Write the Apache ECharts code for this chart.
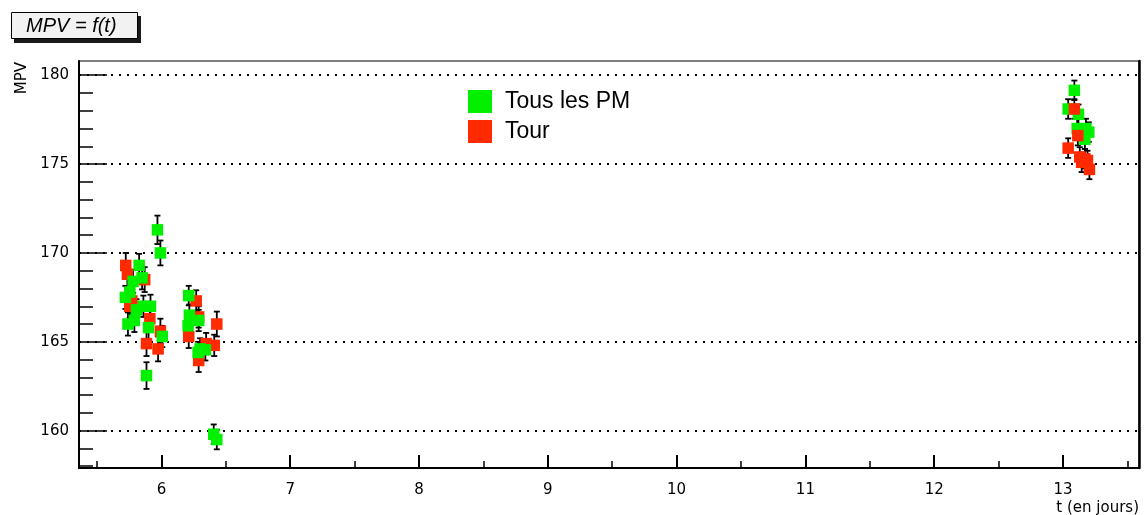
<!DOCTYPE html>
<html>
<head>
<meta charset="utf-8">
<script src="https://cdn.jsdelivr.net/npm/echarts@6/dist/echarts.min.js"></script>
<style>
  html, body { margin: 0; padding: 0; background: #fff; }
  #chart { width: 1146px; height: 515px; }
</style>
</head>
<body>
<div id="chart"></div>
<script>
// MPV versus time (days), two selections: all PMs and the tower.
// Days 5.7 - 6.45
const tAllEarly  = [5.72, 5.74, 5.755, 5.78, 5.79, 5.806, 5.827, 5.85, 5.86, 5.884, 5.90, 5.915, 5.969, 5.992, 6.007, 6.207, 6.212, 6.217, 6.285, 6.289, 6.30, 6.341, 6.406, 6.43];
const vAllEarly  = [167.5, 166.0, 167.8, 168.4, 166.2, 166.8, 169.3, 168.6, 167.0, 163.1, 165.8, 167.0, 171.3, 170.0, 165.3, 165.9, 167.6, 166.5, 164.4, 166.2, 164.6, 164.55, 159.8, 159.5];
const eAllEarly  = [0.65, 0.65, 0.6, 0.65, 0.65, 0.6, 0.65, 0.65, 0.6, 0.75, 0.65, 0.65, 0.8, 0.7, 0.6, 0.6, 0.55, 0.6, 0.6, 0.6, 0.6, 0.6, 0.55, 0.55];
const tTourEarly = [5.723, 5.736, 5.754, 5.77, 5.87, 5.884, 5.91, 5.974, 5.992, 6.212, 6.27, 6.289, 6.289, 6.347, 6.41, 6.43];
const vTourEarly = [169.3, 168.8, 167.0, 167.3, 168.5, 164.9, 166.3, 164.6, 165.6, 165.3, 167.3, 166.4, 163.95, 164.9, 164.8, 166.0];
const eTourEarly = [0.7, 0.7, 0.65, 0.65, 0.7, 0.7, 0.65, 0.7, 0.7, 0.65, 0.6, 0.6, 0.65, 0.6, 0.6, 0.7];
// Day 13
const tAllLate  = [13.04, 13.088, 13.11, 13.12, 13.17, 13.178, 13.2];
const vAllLate  = [178.1, 179.15, 177.0, 177.8, 176.4, 177.0, 176.8];
const eAllLate  = [0.55, 0.55, 0.55, 0.55, 0.55, 0.55, 0.55];
const tTourLate = [13.04, 13.088, 13.115, 13.13, 13.145, 13.17, 13.19, 13.205];
const vTourLate = [175.9, 178.1, 176.6, 175.4, 175.1, 175.3, 175.2, 174.7];
const eTourLate = [0.55, 0.55, 0.55, 0.55, 0.55, 0.55, 0.55, 0.55];

// Axis ticks
const xMajorTicks = [6, 7, 8, 9, 10, 11, 12, 13];
const xMinorTicks = [5.5, 6.5, 7.5, 8.5, 9.5, 10.5, 11.5, 12.5, 13.5];
const yMajorTicks = [160, 165, 170, 175, 180];
const yMinorTicks = [158, 159, 161, 162, 163, 164, 166, 167, 168, 169, 171, 172, 173, 174, 176, 177, 178, 179, 180];

const GREEN = '#00f000';
const RED = '#ff2a00';
const X_MIN = 5.36, X_MAX = 13.59, Y_MIN = 157.9, Y_MAX = 180.8;

const zip = (t, v, e) => t.map((x, i) => e ? [x, v[i], e[i]] : [x, v[i]]);

function errorBars(params, api) {
  const x = api.value(0), y = api.value(1), e = api.value(2);
  const top = api.coord([x, y + e]);
  const bot = api.coord([x, y - e]);
  const c = 3;
  const st = { stroke: '#000', lineWidth: 1.8 };
  return {
    type: 'group',
    children: [
      { type: 'line', shape: { x1: top[0], y1: top[1], x2: bot[0], y2: bot[1] }, style: st },
      { type: 'line', shape: { x1: top[0] - c, y1: top[1], x2: top[0] + c, y2: top[1] }, style: st },
      { type: 'line', shape: { x1: bot[0] - c, y1: bot[1], x2: bot[0] + c, y2: bot[1] }, style: st }
    ]
  };
}

function errSeries(data) {
  return { type: 'custom', renderItem: errorBars, data: data, z: 2, silent: true,
           encode: { x: 0, y: 1 }, clip: false };
}
function markSeries(name, color, data, z) {
  return { name: name, type: 'scatter', symbol: 'rect', symbolSize: 11.5, data: data, z: z,
           itemStyle: { color: color, opacity: 1 }, silent: true };
}

const labelFont = { fontFamily: 'DejaVu Sans', fontSize: 15, color: '#000' };

const chart = echarts.init(document.getElementById('chart'), null, { renderer: 'canvas' });
chart.setOption({
  animation: false,
  backgroundColor: '#fff',
  grid: { left: 79, right: 7, top: 61, bottom: 47, show: true, borderColor: '#000', borderWidth: 1, containLabel: false },
  legend: {
    data: ['Tous les PM', 'Tour'],
    orient: 'vertical', left: 463, top: 85,
    icon: 'rect', itemWidth: 24, itemHeight: 23, itemGap: 7,
    textStyle: { fontFamily: 'Liberation Sans', fontSize: 23, color: '#000', padding: [0, 0, 0, 8] },
    selectedMode: false
  },
  xAxis: [
    {
      type: 'value', min: X_MIN, max: X_MAX, position: 'bottom',
      axisLine: { show: true, lineStyle: { color: '#000', width: 2 } },
      axisTick: { show: true, inside: true, length: 13, customValues: xMajorTicks, lineStyle: { color: '#000', width: 2 } },
      axisLabel: Object.assign({ customValues: xMajorTicks, margin: 15 }, labelFont),
      splitLine: { show: false }
    },
    {
      type: 'value', min: X_MIN, max: X_MAX, position: 'bottom',
      axisLine: { show: false },
      axisTick: { show: true, inside: true, length: 7, customValues: xMinorTicks, lineStyle: { color: '#000', width: 1.5 } },
      axisLabel: { show: false },
      splitLine: { show: false }
    }
  ],
  yAxis: [
    {
      type: 'value', min: Y_MIN, max: Y_MAX, position: 'left',
      axisLine: { show: true, lineStyle: { color: '#000', width: 2 } },
      axisTick: { show: true, inside: true, length: 28, customValues: yMajorTicks, lineStyle: { color: '#000', width: 1.5 } },
      axisLabel: Object.assign({ customValues: yMajorTicks, margin: 10 }, labelFont),
      splitLine: { show: true, lineStyle: { color: '#000', width: 1.8, type: [2, 6] } }
    },
    {
      type: 'value', min: Y_MIN, max: Y_MAX, position: 'left',
      axisLine: { show: false },
      axisTick: { show: true, inside: true, length: 14, customValues: yMinorTicks, lineStyle: { color: '#000', width: 1.5 } },
      axisLabel: { show: false },
      splitLine: { show: false }
    },
    {
      type: 'value', min: Y_MIN, max: Y_MAX, position: 'right',
      axisLine: { show: true, lineStyle: { color: '#000', width: 2.5 } },
      axisTick: { show: false }, axisLabel: { show: false }, splitLine: { show: false }
    }
  ],
  graphic: [
    // Title box with drop shadow
    { type: 'rect', shape: { x: 14, y: 16, width: 127, height: 27 }, style: { fill: '#1a1a1a' }, z: 10 },
    { type: 'rect', shape: { x: 11.5, y: 12.5, width: 126, height: 26 }, style: { fill: '#f2f2f2', stroke: '#000', lineWidth: 1 }, z: 11 },
    { type: 'text', x: 26, y: 26, style: { text: 'MPV = f(t)', fontFamily: 'Liberation Sans', fontStyle: 'italic', fontSize: 20, fill: '#000', verticalAlign: 'middle', align: 'left' }, z: 12 },
    // Axis titles
    { type: 'text', x: 22, y: 62, rotation: Math.PI / 2, style: { text: 'MPV', fontFamily: 'DejaVu Sans', fontSize: 15, fill: '#000', align: 'right', verticalAlign: 'middle' }, z: 12 },
    { type: 'text', x: 1139, y: 508, style: { text: 't (en jours)', fontFamily: 'DejaVu Sans', fontSize: 15, fill: '#000', align: 'right', verticalAlign: 'middle' }, z: 12 }
  ],
  series: [
    errSeries(zip(tTourEarly, vTourEarly, eTourEarly)),
    errSeries(zip(tAllEarly, vAllEarly, eAllEarly)),
    errSeries(zip(tAllLate, vAllLate, eAllLate)),
    errSeries(zip(tTourLate, vTourLate, eTourLate)),
    markSeries('Tour', RED, zip(tTourEarly, vTourEarly), 3),
    markSeries('Tous les PM', GREEN, zip(tAllEarly, vAllEarly), 4),
    markSeries('Tous les PM', GREEN, zip(tAllLate, vAllLate), 5),
    markSeries('Tour', RED, zip(tTourLate, vTourLate), 6)
  ]
});
</script>
</body>
</html>
